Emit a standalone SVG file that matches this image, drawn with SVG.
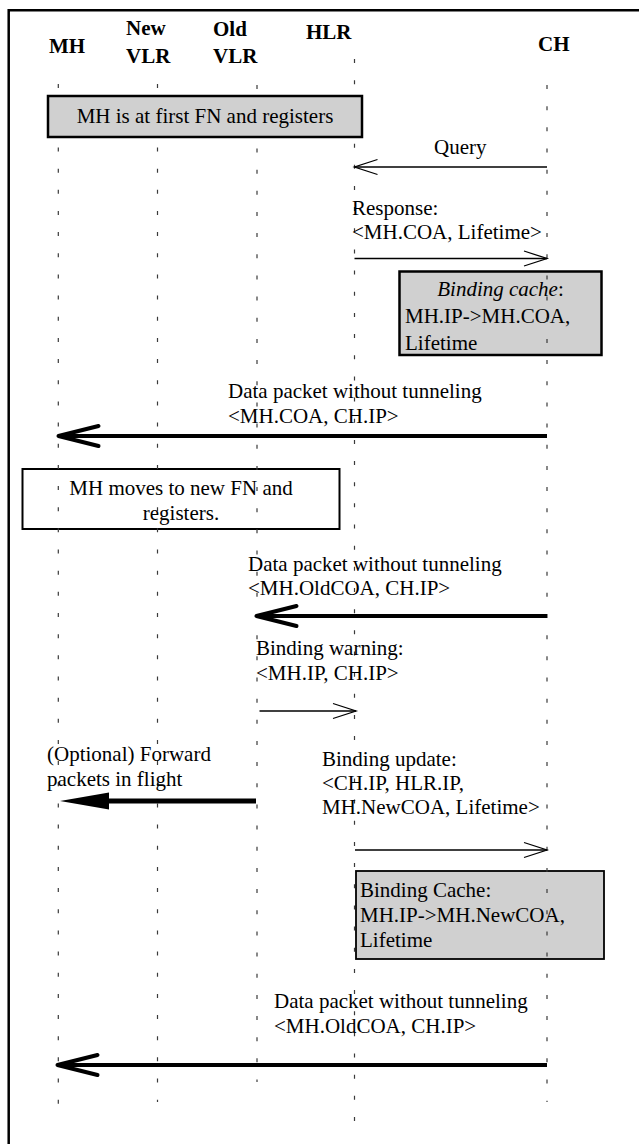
<svg xmlns="http://www.w3.org/2000/svg" width="639" height="1144" viewBox="0 0 639 1144">
<style>
.t{font-family:"Liberation Serif","Times New Roman",serif;font-size:21px;fill:#000}
.h{font-weight:bold}
.c{text-anchor:middle}
.life{stroke:#3a3a3a;stroke-width:1.2;stroke-dasharray:4 17.16;fill:none}
.thin{stroke:#000;stroke-width:1.3;fill:none}
.thick{stroke:#000;stroke-width:4;fill:none}
.fwd{stroke:#000;stroke-width:5;fill:none}
.gbox{fill:#d0d0d0;stroke:#000;stroke-width:2.5}
.wbox{fill:#fff;stroke:#000;stroke-width:2}
</style>
<defs>
<marker id="openThin" markerUnits="userSpaceOnUse" orient="auto" refX="0" refY="0" markerWidth="1" markerHeight="1" overflow="visible">
<path d="M-23,-7.5 L0,0 L-23,7.5" fill="none" stroke="#000" stroke-width="1.3"/>
</marker>
<marker id="openThick" markerUnits="userSpaceOnUse" orient="auto" refX="0" refY="0" markerWidth="1" markerHeight="1" overflow="visible">
<path d="M-40,-10 L0,0 L-40,10" fill="none" stroke="#000" stroke-width="4" stroke-linecap="round" stroke-linejoin="round"/>
</marker>
<marker id="filled" markerUnits="userSpaceOnUse" orient="auto" refX="0" refY="0" markerWidth="1" markerHeight="1" overflow="visible">
<path d="M-2,-8.5 L47,0 L-2,8.5 Z" fill="#000"/>
</marker>
</defs>
<rect x="0" y="0" width="639" height="1144" fill="#fff"/>
<path d="M8.7,1144 V10.3 H639" fill="none" stroke="#000" stroke-width="2.5"/>

<g id="note-binding-cache-1">
<rect class="gbox" x="399.5" y="271.5" width="202" height="83.5"/>
<text class="t c" x="500.5" y="296"><tspan font-style="italic">Binding cache</tspan>:</text>
<text class="t" x="405" y="323">MH.IP-&gt;MH.COA,</text>
<text class="t" x="405" y="350">Lifetime</text>
</g>
<g id="note-moves">
<rect class="wbox" x="22.5" y="469" width="317" height="60"/>
<text class="t c" x="181" y="495">MH moves to new FN and</text>
<text class="t c" x="181" y="520">registers.</text>
</g>
<g id="note-binding-cache-2">
<rect class="gbox" style="stroke-width:1.8" x="356" y="871" width="248" height="88"/>
<text class="t" x="360" y="897">Binding Cache:</text>
<text class="t" x="360" y="922">MH.IP-&gt;MH.NewCOA,</text>
<text class="t" x="360" y="947">Lifetime</text>
</g>

<g id="MH">
<text class="t h" x="49" y="53">MH</text>
<line class="life" x1="58.3" y1="84" x2="58.3" y2="1104"/>
</g>
<g id="NewVLR">
<text class="t h" x="126" y="35">New</text>
<text class="t h" x="126" y="63">VLR</text>
<line class="life" x1="157.5" y1="84" x2="157.5" y2="1102"/>
</g>
<g id="OldVLR">
<text class="t h" x="213" y="36">Old</text>
<text class="t h" x="213" y="63">VLR</text>
<line class="life" x1="257" y1="85" x2="257" y2="1082"/>
</g>
<g id="HLR">
<text class="t h" x="306" y="39">HLR</text>
<line class="life" x1="354.5" y1="59" x2="354.5" y2="1122"/>
</g>
<g id="CH">
<text class="t h" x="538" y="51">CH</text>
<line class="life" x1="547" y1="85" x2="547" y2="1102"/>
</g>

<g id="note-first-fn">
<rect class="gbox" x="48" y="96" width="314" height="41"/>
<text class="t c" x="205" y="123">MH is at first FN and registers</text>
</g>

<g id="connectors">
<line class="thin" x1="547" y1="167" x2="354.5" y2="167" marker-end="url(#openThin)"/>
<text class="t" x="434" y="154">Query</text>

<line class="thin" x1="354.5" y1="258.5" x2="547" y2="258.5" marker-end="url(#openThin)"/>
<text class="t" x="352" y="215">Response:</text>
<text class="t" x="352" y="239">&lt;MH.COA, Lifetime&gt;</text>

<line class="thick" x1="547" y1="436" x2="58.5" y2="436" marker-end="url(#openThick)"/>
<text class="t" x="228" y="398">Data packet without tunneling</text>
<text class="t" x="228" y="423">&lt;MH.COA, CH.IP&gt;</text>

<line class="thick" x1="547" y1="616" x2="256.5" y2="616" marker-end="url(#openThick)"/>
<text class="t" x="248" y="571">Data packet without tunneling</text>
<text class="t" x="248" y="595">&lt;MH.OldCOA, CH.IP&gt;</text>

<line class="thin" x1="259.5" y1="711" x2="356" y2="711" marker-end="url(#openThin)"/>
<text class="t" x="256" y="655">Binding warning:</text>
<text class="t" x="256" y="680">&lt;MH.IP, CH.IP&gt;</text>

<line class="fwd" x1="256" y1="801" x2="107" y2="801" marker-end="url(#filled)"/>
<text class="t" x="47" y="761">(Optional) Forward</text>
<text class="t" x="47" y="786">packets in flight</text>

<line class="thin" x1="355" y1="850" x2="547" y2="850" marker-end="url(#openThin)"/>
<text class="t" x="322" y="766">Binding update:</text>
<text class="t" x="322" y="790">&lt;CH.IP, HLR.IP,</text>
<text class="t" x="322" y="814">MH.NewCOA, Lifetime&gt;</text>

<line class="thick" x1="547" y1="1065" x2="57.5" y2="1065" marker-end="url(#openThick)"/>
<text class="t" x="274" y="1008">Data packet without tunneling</text>
<text class="t" x="274" y="1033">&lt;MH.OldCOA, CH.IP&gt;</text>
</g>
</svg>
